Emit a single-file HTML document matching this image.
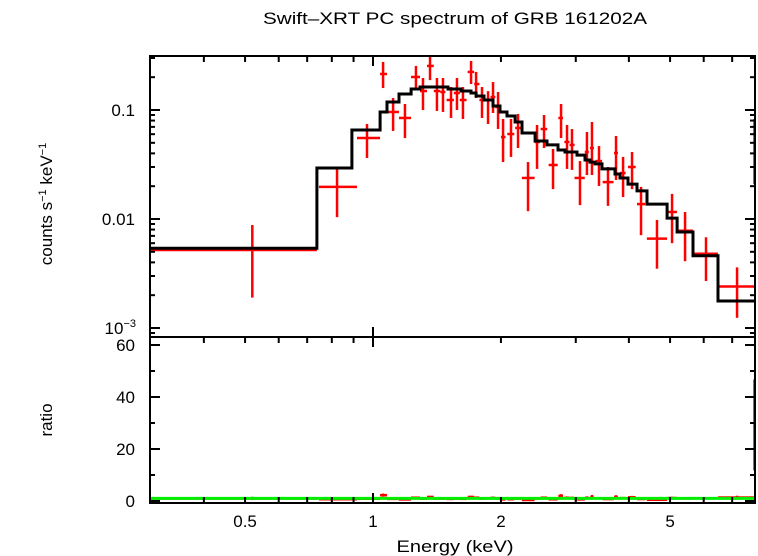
<!DOCTYPE html>
<html><head><meta charset="utf-8"><style>
body{margin:0;background:#fff}
svg{display:block;font-family:"Liberation Sans",sans-serif}
</style></head><body>
<svg id="chart" width="758" height="556" viewBox="0 0 758 556">
<text x="455" y="24" font-size="17" text-anchor="middle" textLength="384" lengthAdjust="spacingAndGlyphs">Swift–XRT PC spectrum of GRB 161202A</text>
<text transform="translate(52,204) rotate(-90)" font-size="17" text-anchor="middle">counts s<tspan font-size="11" dy="-6">−1</tspan><tspan dy="6"> keV</tspan><tspan font-size="11" dy="-6">−1</tspan></text>
<text transform="translate(52,420) rotate(-90)" font-size="17" text-anchor="middle">ratio</text>
<text x="455" y="552" font-size="17" text-anchor="middle" textLength="117" lengthAdjust="spacingAndGlyphs">Energy (keV)</text>
<g id="marks"></g>
</svg>
<script>
const dataE   = [0.52,0.823,0.968,1.056,1.115,1.189,1.262,1.311,1.362,1.414,1.461,1.526,1.576,1.628,1.701,1.748,1.805,1.865,1.916,1.969,2.023,2.112,2.194,2.316,2.432,2.526,2.652,2.770,2.861,2.939,3.069,3.187,3.275,3.402,3.572,3.731,3.876,4.069,4.272,4.658,5.054,5.423,6.075,7.188,7.90];
const dataElo = [0.30,0.746,0.917,1.039,1.079,1.151,1.229,1.29,1.34,1.39,1.44,1.49,1.55,1.60,1.67,1.73,1.78,1.84,1.89,1.94,2.00,2.07,2.16,2.24,2.40,2.48,2.59,2.73,2.82,2.90,2.98,3.15,3.24,3.34,3.47,3.69,3.81,3.98,4.18,4.41,4.92,5.19,5.66,6.48,7.85];
const dataEhi = [0.738,0.917,1.039,1.079,1.151,1.229,1.29,1.34,1.39,1.44,1.48,1.55,1.60,1.66,1.73,1.78,1.83,1.89,1.94,2.00,2.05,2.15,2.23,2.40,2.47,2.57,2.72,2.80,2.90,2.98,3.15,3.22,3.31,3.46,3.68,3.77,3.93,4.15,4.37,4.92,5.19,5.66,6.48,7.92,8.0];
const dataRate= [0.0052,0.0197,0.0553,0.214,0.0959,0.0845,0.2008,0.1493,0.2537,0.1493,0.1462,0.1235,0.1432,0.1235,0.2235,0.1731,0.1235,0.1235,0.1316,0.1065,0.0565,0.0602,0.0684,0.0238,0.0509,0.0669,0.0313,0.0845,0.0509,0.0478,0.0238,0.0412,0.0448,0.0340,0.0218,0.0403,0.0264,0.030,0.0137,0.0066,0.0116,0.0078,0.0048,0.0024,0.0509];
const dataRlo = [0.0019,0.0104,0.0363,0.159,0.0642,0.0553,0.1557,0.1,0.188,0.098,0.096,0.0845,0.1,0.0827,0.1731,0.1288,0.0845,0.0744,0.0939,0.067,0.0333,0.0371,0.0448,0.0118,0.0288,0.0448,0.0188,0.0553,0.0288,0.0282,0.0134,0.0253,0.0253,0.0201,0.0132,0.0228,0.0159,0.0188,0.0071,0.0035,0.006,0.0041,0.0027,0.00124,0.0209];
const dataRhi = [0.0088,0.0288,0.0744,0.276,0.1288,0.1135,0.2537,0.1967,0.3197,0.1967,0.1967,0.1625,0.1967,0.1625,0.2818,0.2235,0.1625,0.149,0.1806,0.1462,0.0827,0.0827,0.0919,0.0333,0.0729,0.09,0.0439,0.1135,0.0729,0.0669,0.034,0.0628,0.0776,0.0467,0.030,0.0577,0.0371,0.0412,0.0197,0.0098,0.017,0.0116,0.0068,0.0036,0.0827];
const modelEdges = [0.299,0.738,0.892,1.039,1.079,1.151,1.229,1.29,1.501,1.611,1.701,1.748,1.825,1.916,1.990,2.067,2.159,2.242,2.406,2.567,2.725,2.830,3.020,3.153,3.240,3.330,3.458,3.711,3.813,3.981,4.180,4.413,4.920,5.193,5.662,6.483,7.922];
const modelVals = [0.0054,0.0294,0.0655,0.0959,0.1184,0.1402,0.1557,0.1625,0.1557,0.1493,0.1432,0.1344,0.1235,0.1088,0.0959,0.0881,0.0776,0.0615,0.0519,0.0478,0.0430,0.0412,0.0386,0.0348,0.0333,0.0320,0.0288,0.0259,0.0238,0.0209,0.0181,0.0137,0.0102,0.0076,0.0046,0.00177];
const xTickLabels = [0.5,1,2,5];
const rateTickLabels = [0.1,0.01];
const ratioTickLabels = [0,20,40,60];

const NS="http://www.w3.org/2000/svg";
const L=150,R=755,T1=56,B1=337,B2=503;
const xs=e=>373+425*Math.log10(e);
const ys=r=>110-109*(Math.log10(r)+1);
const yr=v=>501-2.6*v;
const g=document.getElementById('marks');
function mk(tag,at,parent){const el=document.createElementNS(NS,tag);for(const k in at)el.setAttribute(k,at[k]);(parent||g).appendChild(el);return el;}
function line(x1,y1,x2,y2,c,w,p){return mk('line',{x1,y1,x2,y2,stroke:c,'stroke-width':w},p);}
const defs=mk('defs',{});
const cp1=mk('clipPath',{id:'c1'},defs);mk('rect',{x:L,y:T1,width:R-L,height:B1-T1},cp1);
const cp2=mk('clipPath',{id:'c2'},defs);mk('rect',{x:L,y:B1,width:R-L,height:B2-B1},cp2);
const topG=mk('g',{'clip-path':'url(#c1)'});


const botG=mk('g',{'clip-path':'url(#c2)'});


function modelAt(e){for(let i=0;i<modelVals.length;i++){if(e>=modelEdges[i]&&e<modelEdges[i+1])return modelVals[i];}return modelVals[modelVals.length-1];}
for(let i=0;i<dataE.length;i++){
  const pg=mk('g',{},topG);
  
  
  line(xs(dataElo[i]),ys(dataRate[i]),xs(dataEhi[i]),ys(dataRate[i]),'#ff0000',2.5,pg);
  line(xs(dataE[i]),ys(dataRlo[i]),xs(dataE[i]),ys(dataRhi[i]),'#ff0000',2.5,pg);
  const m=modelAt(dataE[i]);
  const rg=mk('g',{},botG);
  
  
  line(xs(dataElo[i]),yr(dataRate[i]/m),xs(dataEhi[i]),yr(dataRate[i]/m),'#ff0000',2.5,rg);
  line(xs(dataE[i]),yr(dataRlo[i]/m),xs(dataE[i]),yr(dataRhi[i]/m),'#ff0000',2.5,rg);
}
const gl=line(L,yr(1),R,yr(1),'#00ee00',3,botG);


let d='';
for(let i=0;i<modelVals.length;i++){
  const x0=xs(modelEdges[i]),x1=xs(modelEdges[i+1]),y=ys(modelVals[i]);
  d+=(i===0?'M':'L')+x0.toFixed(1)+','+y.toFixed(1)+'L'+x1.toFixed(1)+','+y.toFixed(1);
}
d+='L'+R+','+ys(modelVals[modelVals.length-1]).toFixed(1);
const mp=mk('path',{d,fill:'none',stroke:'#000','stroke-width':3},topG);


const fr=mk('g',{fill:'none',stroke:'#000','stroke-width':2});


mk('rect',{x:L,y:T1,width:R-L,height:B2-T1},fr);
line(L,B1,R,B1,'#000',2,fr);
const minorE=[0.4,0.5,0.6,0.7,0.8,0.9,1,2,3,4,5,6,7];
minorE.forEach(e=>{const x=xs(e),len=(e===1)?10:6;
  line(x,T1,x,T1+len,'#000',2,fr);line(x,B1,x,B1+len,'#000',2,fr);line(x,B2,x,B2-len,'#000',2,fr);
  if(e===1){line(x,B1,x,B1-len,'#000',2,fr);}
});
for(let p=-4;p<=0;p++){for(let k=1;k<10;k++){const v=k*Math.pow(10,p);const y=ys(v);if(y<T1||y>B1)continue;const len=k===1?10:5;line(L,y,L+len,y,'#000',2,fr);line(R,y,R-len,y,'#000',2,fr);}}
for(let v=0;v<=60;v+=10){const y=yr(v),len=(v%20===0)?10:5;line(L,y,L+len,y,'#000',2,fr);line(R,y,R-len,y,'#000',2,fr);}
xTickLabels.forEach(e=>{const t=mk('text',{x:xs(e),y:527,'font-size':17,'text-anchor':'middle'});t.textContent=String(e);
  
  });
rateTickLabels.forEach(v=>{const t=mk('text',{x:135,y:ys(v)+6,'font-size':17,'text-anchor':'end'});t.textContent=String(v);
  
  });
const t3=mk('text',{x:136,y:ys(0.001)+6,'font-size':17,'text-anchor':'end'});
t3.innerHTML='10<tspan font-size="11" dy="-7">−3</tspan>';


ratioTickLabels.forEach(v=>{const t=mk('text',{x:135,y:yr(v)+6,'font-size':17,'text-anchor':'end'});t.textContent=String(v);
  
  });
</script>
</body></html>
